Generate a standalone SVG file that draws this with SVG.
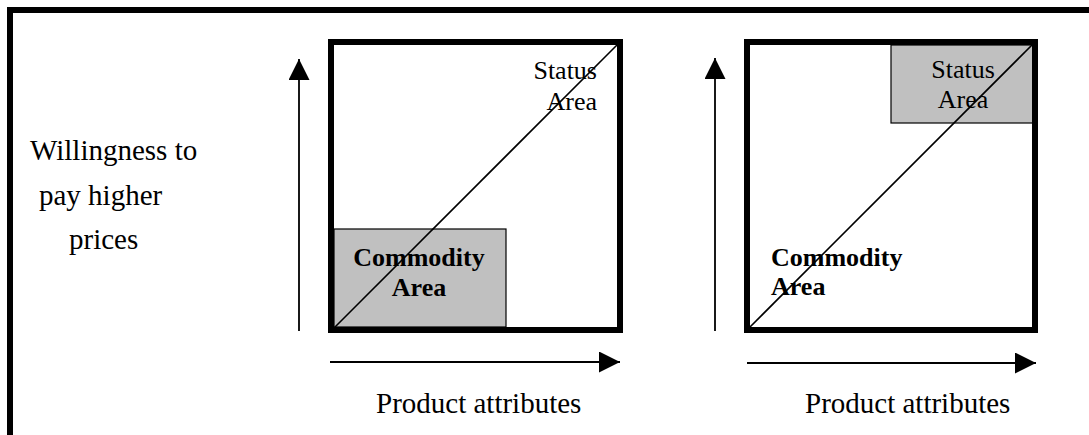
<svg xmlns="http://www.w3.org/2000/svg" width="1089" height="435" viewBox="0 0 1089 435">
  <style>
    .frame { fill: none; stroke: #000; stroke-width: 6; }
    .box { fill: none; stroke: #000; stroke-width: 6; }
    .zone { fill: #c0c0c0; stroke: #000; stroke-width: 1.2; }
    .diag { stroke: #000; stroke-width: 1.6; }
    .axis { stroke: #000; stroke-width: 1.8; fill: none; }
    .lbl { font-family: "Liberation Serif", "Times New Roman", serif; font-size: 29px; fill: #000; }
    .small { font-family: "Liberation Serif", "Times New Roman", serif; font-size: 26px; fill: #000; }
    .bold { font-family: "Liberation Serif", "Times New Roman", serif; font-size: 26px; font-weight: bold; fill: #000; }
  </style>
  <defs>
    <marker id="head" markerUnits="userSpaceOnUse" markerWidth="21" markerHeight="21" refX="21" refY="10.5" orient="auto">
      <path d="M0,0 L21,10.5 L0,21 Z" fill="#000"/>
    </marker>
  </defs>

  <rect width="1089" height="435" fill="#fff"/>

  <!-- outer frame, open to the right and bottom edges -->
  <rect class="frame" x="10" y="10" width="1100" height="450"/>

  <!-- vertical axis title -->
  <g id="y-label">
    <text class="lbl" x="30" y="160">Willingness to</text>
    <text class="lbl" x="39" y="205">pay higher</text>
    <text class="lbl" x="69" y="249">prices</text>
  </g>

  <!-- left chart: commodity area in the lower corner -->
  <g id="chart-left">
    <rect id="commodity-left" class="zone" x="334" y="229" width="172" height="98"/>
    <g id="commodity-left-label" text-anchor="middle">
      <text class="bold" x="419" y="266">Commodity</text>
      <text class="bold" x="419" y="296">Area</text>
    </g>
    <g id="status-left-label" text-anchor="end">
      <text class="small" x="597" y="79">Status</text>
      <text class="small" x="597" y="110">Area</text>
    </g>
    <line class="diag" x1="335" y1="327" x2="617" y2="45"/>
    <rect id="box-left" class="box" x="331" y="42" width="289" height="288"/>
  </g>

  <!-- right chart: status area in the upper corner -->
  <g id="chart-right">
    <rect id="status-right" class="zone" x="891" y="45" width="142" height="78"/>
    <g id="status-right-label" text-anchor="middle">
      <text class="small" x="963" y="78">Status</text>
      <text class="small" x="963" y="108">Area</text>
    </g>
    <g id="commodity-right-label">
      <text class="bold" x="771" y="266">Commodity</text>
      <text class="bold" x="771" y="295">Area</text>
    </g>
    <line class="diag" x1="750" y1="327" x2="1033" y2="44"/>
    <rect id="box-right" class="box" x="747" y="42" width="288" height="288"/>
  </g>

  <!-- x axis titles -->
  <g id="x-label-left">
    <text class="lbl" x="376" y="413">Product attributes</text>
  </g>
  <g id="x-label-right">
    <text class="lbl" x="805" y="413">Product attributes</text>
  </g>

  <!-- axis arrows -->
  <g id="connectors">
    <line class="axis" x1="299" y1="331" x2="299" y2="59" marker-end="url(#head)"/>
    <line class="axis" x1="330" y1="362" x2="620" y2="362" marker-end="url(#head)"/>
    <line class="axis" x1="715" y1="331" x2="715" y2="58" marker-end="url(#head)"/>
    <line class="axis" x1="747" y1="363" x2="1036" y2="363" marker-end="url(#head)"/>
  </g>
</svg>
